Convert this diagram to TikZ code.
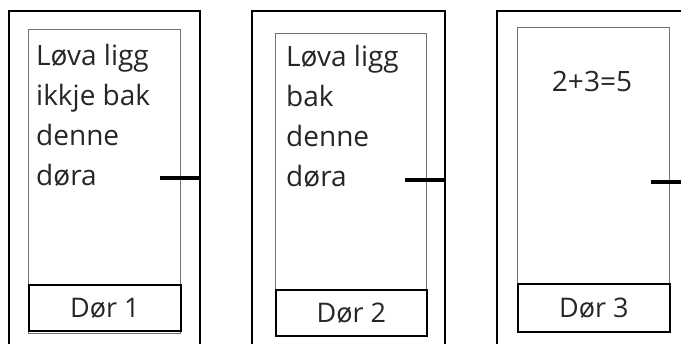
\documentclass[tikz,border=0pt]{standalone}
\usepackage{fontspec}
\setmainfont{Open Sans}
\tikzset{
  frame/.style={line width=2.2pt, black},
  panel/.style={draw=black!55, line width=0.8pt, rectangle, inner sep=0pt},
  plate/.style={draw=black, line width=1.8pt, rectangle, inner sep=0pt, fill=white,
    font=\fontsize{27}{30}\selectfont, text=black!85},
  handle/.style={line width=3.5pt, black},
  doortext/.style={align=left, anchor=north west, inner sep=0pt,
    font=\fontsize{28}{40}\selectfont, text=black!85}
}
\begin{document}
\begin{tikzpicture}[x=1pt,y=-1pt]
\useasboundingbox (0,0) rectangle (681,344);
\begin{scope}
\clip (0,0) rectangle (681,344);
% door 1
\draw[frame] (9,350) -- (9,11) -- (200,11) -- (200,350);
\node[panel, minimum width=152pt, minimum height=304pt, anchor=north west] (p1) at (28,29) {};
\node[plate, minimum width=152pt, minimum height=46pt, anchor=north west] (n1) at (28,284) {Dør 1};
\node[doortext] (t1) at (36,44) {Løva ligg\\ikkje bak\\denne\\døra};
\draw[handle] (160,178) -- (200,178);
% door 2
\draw[frame] (252,350) -- (252,11) -- (445,11) -- (445,350);
\node[panel, minimum width=151pt, minimum height=303pt, anchor=north west] (p2) at (275,33) {};
\node[plate, minimum width=151pt, minimum height=46pt, anchor=north west] (n2) at (275,289) {Dør 2};
\node[doortext] (t2) at (286,45) {Løva ligg\\bak\\denne\\døra};
\draw[handle] (405,180) -- (445,180);
% door 3
\draw[frame] (497,350) -- (497,11) -- (690,11);
\node[panel, minimum width=152pt, minimum height=304pt, anchor=north west] (p3) at (517,27) {};
\node[plate, minimum width=152pt, minimum height=48pt, anchor=north west] (n3) at (517,283) {Dør 3};
\node[doortext, anchor=center] (t3) at (592,82) {2+3=5};
\draw[handle] (651,182) -- (681,182);
\end{scope}
\end{tikzpicture}
\end{document}
